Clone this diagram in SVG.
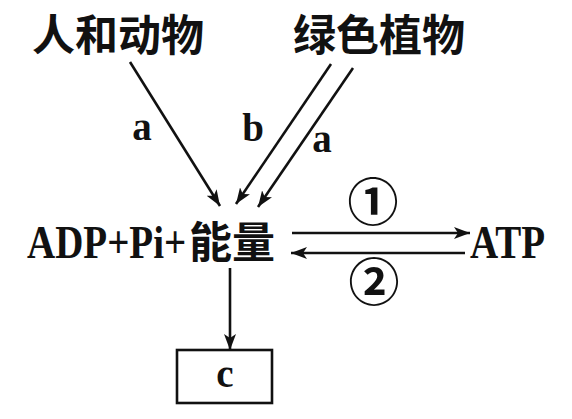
<svg xmlns="http://www.w3.org/2000/svg" width="572" height="419" viewBox="0 0 572 419">
<defs>
<marker id="ah" viewBox="0 0 16 12" refX="16" refY="6" markerWidth="16" markerHeight="12" markerUnits="userSpaceOnUse" orient="auto">
<path d="M0,0 L16,6 L0,12 L4,6 Z" fill="#111"/>
</marker>
</defs>
<style>
.cn{font-family:"Noto Sans CJK SC",sans-serif;font-size:43px;font-weight:bold;fill:#111}
.lt{font-family:"Liberation Serif",serif;font-size:39px;font-weight:bold;fill:#111}
.lb{font-family:"Liberation Serif",serif;font-size:39px;font-weight:bold;fill:#111}
.cd{font-family:"Noto Sans CJK SC","DejaVu Sans",sans-serif;font-size:51px;font-weight:bold;fill:#111}
.ln{stroke:#111;stroke-width:2.6;fill:none;marker-end:url(#ah)}
</style>
<rect width="572" height="419" fill="#fff"/>
<g id="node-animals"><text class="cn" x="32" y="51">人和动物</text></g>
<g id="node-plants"><text class="cn" x="293" y="51">绿色植物</text></g>
<g id="node-adp">
<text class="lt" transform="translate(27,258) scale(1,1.2)" x="0" y="0">ADP+Pi+</text>
<text class="cn" x="189" y="258">能量</text>
</g>
<g id="node-atp"><text class="lt" transform="translate(470,258) scale(1,1.2)" x="0" y="0">ATP</text></g>
<g id="node-c"><rect x="177" y="350" width="95" height="53" fill="#fff" stroke="#111" stroke-width="2.6"/><text class="lb" x="225" y="387" text-anchor="middle">c</text></g>
<g id="connectors">
<line class="ln" x1="130" y1="62" x2="220" y2="206"/>
<line class="ln" x1="331" y1="64" x2="236" y2="204"/>
<line class="ln" x1="353" y1="68" x2="258" y2="207"/>
<line class="ln" x1="292" y1="233" x2="470" y2="233"/>
<line class="ln" x1="465" y1="253" x2="291" y2="253"/>
<line class="ln" x1="230" y1="268" x2="230" y2="350"/>
<text class="lb" x="142" y="140" text-anchor="middle">a</text>
<text class="lb" x="253" y="141" text-anchor="middle">b</text>
<text class="lb" x="322" y="152" text-anchor="middle">a</text>
<text class="cd" x="373" y="221" text-anchor="middle">①</text>
<text class="cd" x="374" y="301" text-anchor="middle">②</text>
</g>
</svg>
